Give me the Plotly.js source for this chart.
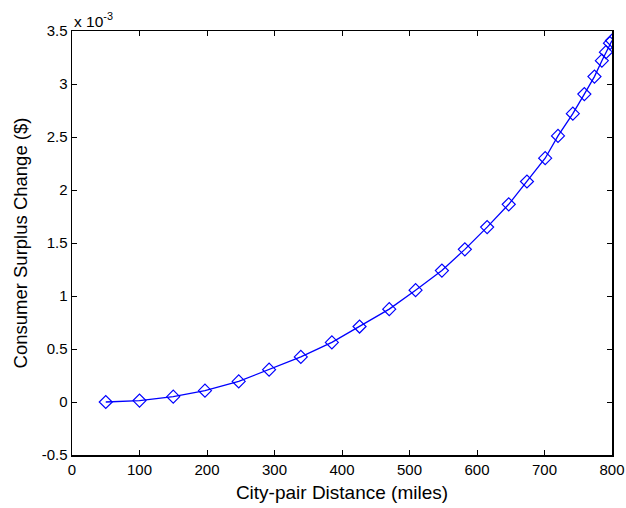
<!DOCTYPE html>
<html>
<head>
<meta charset="utf-8">
<script src="https://cdn.plot.ly/plotly-3.0.1.min.js"></script>
<style>html,body{margin:0;padding:0;background:#fff;}#chart{width:626px;height:508px;}</style>
</head>
<body>
<div id="chart"></div>
<script>
// City-pair distance (miles)
var distance = [50, 100, 150, 197, 247, 292, 339, 385, 426, 470, 509, 548, 582, 615, 647, 674, 701, 720, 742, 759, 774, 785, 791, 797, 800];
// Consumer surplus change, in units of 10^-3 dollars
var surplusChange = [0, 0.013, 0.05, 0.107, 0.194, 0.305, 0.425, 0.562, 0.712, 0.876, 1.055, 1.24, 1.44, 1.65, 1.865, 2.08, 2.30, 2.51, 2.72, 2.905, 3.07, 3.22, 3.30, 3.385, 3.41];
var xTicks = [0, 100, 200, 300, 400, 500, 600, 700, 800];
var yTicks = [-0.5, 0, 0.5, 1, 1.5, 2, 2.5, 3, 3.5];
var yTickText = ['-0.5', '0', '0.5', '1', '1.5', '2', '2.5', '3', '3.5'];

var trace = {
  x: distance,
  y: surplusChange,
  type: 'scatter',
  mode: 'lines+markers',
  line: {color: '#0000ff', width: 1.3},
  marker: {symbol: 'diamond-open', size: 10, color: '#0000ff', line: {width: 1.2, color: '#0000ff'}},
  hoverinfo: 'skip'
};

var fontFam = '"Liberation Sans", Arial, sans-serif';
var layout = {
  width: 626, height: 508,
  margin: {l: 72, r: 14, t: 31, b: 53},
  paper_bgcolor: '#fff', plot_bgcolor: '#fff',
  showlegend: false,
  font: {family: fontFam, size: 15, color: '#000'},
  xaxis: {
    range: [0, 800], tickvals: xTicks, ticktext: xTicks.map(String),
    ticks: 'inside', ticklen: 5, tickwidth: 1, tickcolor: '#000',
    showline: true, linecolor: '#000', linewidth: 1.5, mirror: 'ticks',
    showgrid: false, zeroline: false,
    tickfont: {family: fontFam, size: 15, color: '#000'},
    title: {text: 'City-pair Distance (miles)', font: {family: fontFam, size: 19, color: '#000'}, standoff: 9}
  },
  yaxis: {
    range: [-0.5, 3.5], tickvals: yTicks, ticktext: yTickText,
    ticks: 'inside', ticklen: 5, tickwidth: 1, tickcolor: '#000',
    showline: true, linecolor: '#000', linewidth: 1.5, mirror: 'ticks',
    showgrid: false, zeroline: false,
    tickfont: {family: fontFam, size: 15, color: '#000'},
    title: {text: 'Consumer Surplus Change ($)', font: {family: fontFam, size: 18.5, color: '#000'}, standoff: 9}
  },
  annotations: [{
    xref: 'paper', yref: 'paper', x: 0, y: 1, xanchor: 'left', yanchor: 'bottom',
    text: 'x 10<sup>-3</sup>', showarrow: false,
    font: {family: fontFam, size: 15.5, color: '#000'}, yshift: -1
  }]
};

Plotly.newPlot('chart', [trace], layout, {staticPlot: true, displayModeBar: false});
</script>
</body>
</html>
